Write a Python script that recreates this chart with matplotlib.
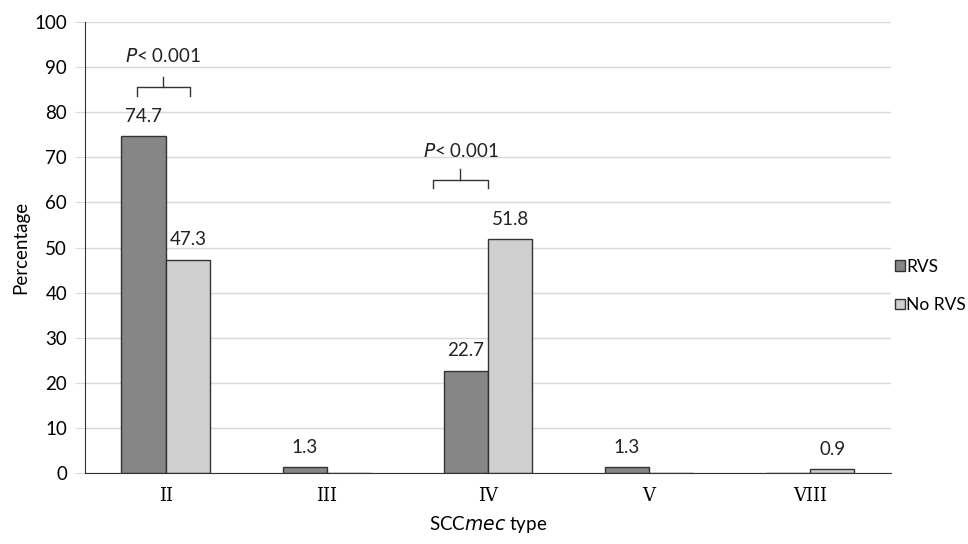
import matplotlib.pyplot as plt
import numpy as np

plt.rcParams['font.family'] = ['Lato', 'DejaVu Sans']

categories = ['II', 'III', 'IV', 'V', 'VIII']
rvs = [74.7, 1.3, 22.7, 1.3, 0]
no_rvs = [47.3, 0, 51.8, 0, 0.9]
rvs_labels = ['74.7', '1.3', '22.7', '1.3', '']
no_rvs_labels = ['47.3', '', '51.8', '', '0.9']

fs = 13.5

fig = plt.figure(figsize=(9.68, 5.44), dpi=100)
ax = fig.add_axes([0.088, 0.13, 0.832, 0.83])

x = np.arange(len(categories))
w = 0.275
ax.bar(x - w / 2, rvs, w, color='#868686', edgecolor='#333333', linewidth=1, label='RVS', zorder=3)
ax.bar(x + w / 2, no_rvs, w, color='#cfcfd0', edgecolor='#333333', linewidth=1, label='No RVS', zorder=3)

for i in range(len(categories)):
    if rvs_labels[i]:
        ax.text(x[i] - w / 2, rvs[i] + 2.5, rvs_labels[i], ha='center', va='bottom', fontsize=fs, color='#222222')
    if no_rvs_labels[i]:
        ax.text(x[i] + w / 2, no_rvs[i] + 2.5, no_rvs_labels[i], ha='center', va='bottom', fontsize=fs, color='#222222')

# brackets with p values
def bracket(x0, x1, y, txt_y):
    xm = (x0 + x1) / 2
    ax.plot([x0, x0, x1, x1], [y - 1.9, y, y, y - 1.9], color='#333333', lw=1, zorder=4)
    ax.plot([xm, xm], [y, y + 2.3], color='#333333', lw=1, zorder=4)
    ax.text(xm, txt_y, '$\\it{P}$< 0.001', ha='center', va='center', fontsize=fs, color='#222222')

bracket(-0.18, 0.15, 85.5, 92.5)
bracket(1.66, 2.0, 65, 71.3)

ax.set_xlim(-0.5, 4.5)
ax.set_ylim(0, 100)
ax.set_yticks(range(0, 101, 10))
ax.set_xticks(x)
ax.set_xticklabels(categories, fontsize=13, family='DejaVu Serif')
ax.tick_params(axis='y', labelsize=fs, length=7, color='#d9d9d9', pad=6)
ax.tick_params(axis='x', length=0, pad=10)
ax.grid(axis='y', color='#d9d9d9', linewidth=1, zorder=0)
for s in ['top', 'right']:
    ax.spines[s].set_visible(False)
ax.spines['left'].set_color('#333333')
ax.spines['bottom'].set_color('#333333')
ax.spines['bottom'].set_zorder(5)

ax.set_ylabel('Percentage', fontsize=fs)
ax.set_xlabel('SCC$\\it{mec}$ type', fontsize=fs, labelpad=6)

leg = ax.legend(loc='center left', bbox_to_anchor=(0.995, 0.415), frameon=False, fontsize=12.5,
                handlelength=0.55, handleheight=0.55, handletextpad=0.1, labelspacing=1.3,
                borderaxespad=0.1)

fig.savefig('out.png', dpi=100)
